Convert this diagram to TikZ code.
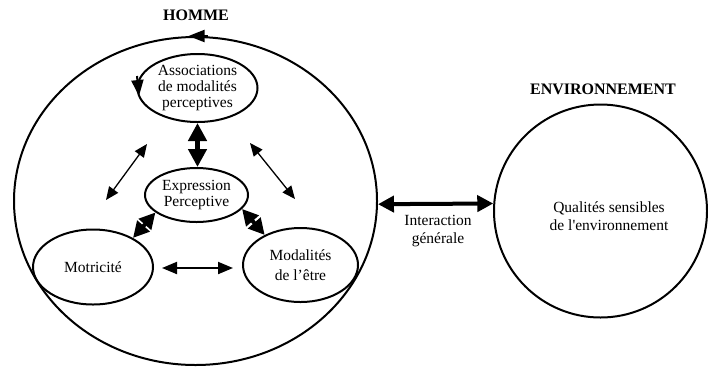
\documentclass[tikz,border=0pt]{standalone}
\usepackage{fontspec}
\setmainfont{Liberation Serif}
\usetikzlibrary{shapes.geometric,arrows.meta,calc}
\begin{document}
\begin{tikzpicture}[x=1pt,y=-1pt,
  ell/.style={draw, ellipse, line width=2pt, inner sep=0pt, align=center, font=\fontsize{15.5}{19}\selectfont},
  lbl/.style={align=center, font=\fontsize{15.5}{18}\selectfont},
  ttl/.style={font=\fontsize{16}{19}\selectfont\bfseries},
  bigarrow/.style={line width=4.5pt, {Triangle[length=18pt,width=18pt]}-{Triangle[length=18pt,width=18pt]}},
  midarrow/.style={line width=4pt, {Triangle[length=16pt,width=16pt]}-{Triangle[length=16pt,width=16pt]}},
  thinarrow/.style={line width=1.3pt, {Triangle[length=13pt,width=11pt]}-{Triangle[length=13pt,width=11pt]}},
  hzarrow/.style={line width=2pt, {Triangle[length=15pt,width=12pt]}-{Triangle[length=15pt,width=12pt]}},
  marktip/.style={line width=2pt, -{Triangle[length=16pt,width=12pt]}},
]
\useasboundingbox (0,0) rectangle (708,373);

% titles
\node[ttl] (thomme) at (196,15) {HOMME};
\node[ttl] (tenv) at (603,89) {ENVIRONNEMENT};

% big circles
\node[draw, ellipse, line width=2pt, minimum width=363pt, minimum height=328pt, inner sep=0pt] (homme) at (195.5,201) {};
\node[draw, circle, line width=2pt, minimum size=213pt, inner sep=0pt] (env) at (600.5,211) {};
\node[lbl] (qual) at (609,216) {Qualités sensibles\\de l\textquotesingle environnement};

% inner ellipses
\node[ell, minimum width=120pt, minimum height=68pt] (assoc) at (197.5,88) {\raisebox{-3pt}{\shortstack{Associations\\[2pt]de modalités\\[2pt]perceptives}}};
\node[ell, minimum width=103pt, minimum height=54pt, font=\fontsize{15.5}{16.5}\selectfont] (expr) at (196.5,195) {Expression\\Perceptive};
\node[ell, minimum width=120pt, minimum height=75pt] (motr) at (93,267) {Motricité};
\node[ell, minimum width=115pt, minimum height=74pt, font=\fontsize{15.5}{20}\selectfont] (modal) at (300.5,265) {Modalités\\de l’être};

% direction marks on the cycles
\draw[marktip] ($(homme.north)+(12,0)$) -- ($(homme.north)+(-7,0)$);
\draw[marktip] ($(assoc.west)+(0.5,-12)$) -- ($(assoc.west)+(2.5,8)$);

% connectors
\draw[bigarrow] (assoc.south) -- (assoc.south |- expr.north);
\draw[midarrow] (expr.203) -- (motr.36);
\draw[midarrow] (expr.-17) -- (modal.140);

\coordinate (la) at (147,144);
\coordinate (lb) at (106,200);
\coordinate (ra) at (250,143);
\coordinate (rb) at (295,199);
\draw[thinarrow] (la) -- (lb);
\draw[thinarrow] (ra) -- (rb);

\coordinate (ha) at (162,268);
\coordinate (hb) at (233,268);
\draw[hzarrow] (ha) -- (hb);

% interaction
\draw[midarrow] (homme.-1.4) -- (env.176.8);
\node[lbl] (inter) at (438,231) {Interaction\\générale};
\end{tikzpicture}
\end{document}
